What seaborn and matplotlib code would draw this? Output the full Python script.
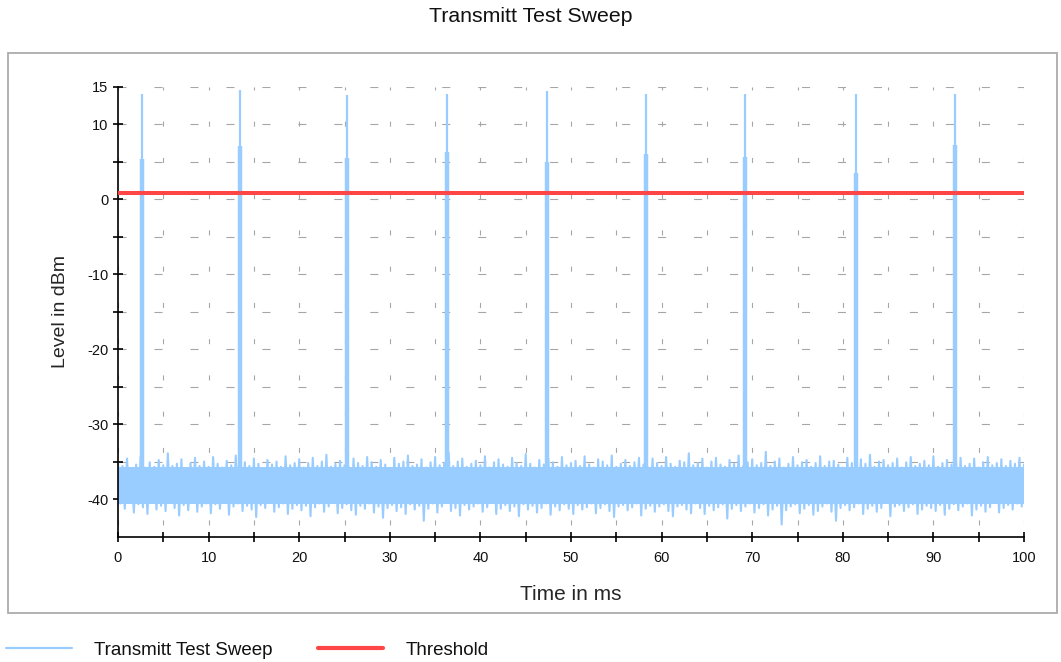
import numpy as np
import pandas as pd
import matplotlib
matplotlib.use("Agg")
import matplotlib.pyplot as plt
import seaborn as sns
from matplotlib.lines import Line2D
from matplotlib.patches import Rectangle

# ---------------- data ----------------
title = "Transmitt Test Sweep"
x_label = "Time in ms"
y_label = "Level in dBm"
series_names = ["Transmitt Test Sweep", "Threshold"]

# sweep sampled every 0.5 ms: upper / lower excursions of the noise floor (dBm)
noise_hi = [
    -35.2, -35.6, -34.6, -35.9, -35.4, -34.3, -35.8, -35.1, -35.7, -34.8, -35.5, -33.9, -35.6, -35.3, -34.7, -35.9, -35.2, -34.5, -35.6, -35.0,
    -35.7, -34.4, -35.3, -35.8, -34.9, -35.5, -34.2, -35.7, -35.1, -35.6, -34.6, -35.3, -35.9, -34.8, -35.4, -35.0, -35.7, -34.3, -35.5, -35.2,
    -34.7, -35.8, -35.2, -34.5, -35.6, -35.0, -34.1, -35.7, -35.3, -34.9, -35.5, -35.8, -34.6, -35.2, -35.6, -34.4, -35.1, -35.7, -34.8, -35.4,
    -35.9, -34.5, -35.3, -35.0, -34.2, -35.6, -35.4, -34.7, -35.8, -35.1, -34.4, -35.5, -35.2, -33.8, -35.6, -35.0, -34.6, -35.7, -35.3, -34.9,
    -35.5, -34.3, -35.8, -35.1, -34.7, -35.4, -35.7, -34.5, -35.2, -35.6, -34.0, -35.3, -35.8, -34.8, -35.4, -34.6, -35.1, -35.7, -34.4, -35.5,
    -35.2, -34.9, -35.6, -34.3, -35.4, -35.8, -34.7, -35.0, -35.5, -34.2, -35.7, -35.3, -34.8, -35.6, -35.1, -34.5, -35.4, -35.8, -34.6, -35.2,
    -35.6, -34.4, -35.3, -35.7, -34.9, -35.1, -33.9, -35.5, -35.2, -34.6, -35.8, -35.0, -34.5, -35.4, -35.7, -34.8, -35.3, -34.2, -35.6, -35.1,
    -34.7, -35.5, -35.2, -33.7, -35.6, -35.0, -34.6, -35.8, -35.3, -34.4, -35.5, -35.1, -34.8, -35.7, -35.2, -34.3, -35.6, -35.0, -34.9, -35.4,
    -35.8, -34.5, -35.2, -35.6, -34.7, -35.3, -34.1, -35.7, -35.0, -34.8, -35.5, -35.2, -34.6, -35.8, -35.1, -34.4, -35.6, -35.3, -34.9, -35.5,
    -34.3, -35.7, -35.2, -34.8, -35.4, -35.0, -34.5, -35.6, -35.3, -34.6, -35.8, -35.1, -34.4, -35.5, -35.2, -34.7, -35.6, -34.9, -35.3, -34.5,
    -35.4,
]
noise_lo = [
    -40.6, -41.3, -40.2, -41.8, -40.7, -41.1, -42.0, -40.5, -41.4, -40.9, -41.6, -40.3, -41.2, -42.2, -40.8, -41.5, -40.4, -41.7, -41.0, -40.6,
    -41.9, -40.7, -41.3, -40.5, -42.1, -41.0, -40.6, -41.6, -40.9, -41.4, -42.4, -40.8, -41.2, -40.5, -41.7, -41.1, -40.6, -42.0, -41.3, -40.8,
    -41.5, -40.9, -42.3, -41.1, -40.6, -41.7, -41.0, -40.4, -41.9, -41.2, -40.7, -41.5, -42.1, -40.9, -41.3, -40.6, -41.8, -41.0, -42.5, -41.2,
    -40.8, -41.6, -41.1, -42.0, -40.7, -41.4, -40.9, -42.9, -41.3, -40.6, -41.8, -41.0, -40.5, -41.6, -41.2, -42.2, -40.8, -41.4, -41.0, -40.6,
    -41.7, -41.1, -40.5, -42.0, -41.3, -40.8, -41.6, -41.0, -42.3, -40.7, -41.4, -40.9, -41.8, -41.2, -40.6, -42.1, -41.0, -41.5, -40.7, -41.3,
    -42.0, -40.8, -41.4, -41.1, -40.6, -41.9, -41.2, -40.7, -41.6, -42.4, -41.0, -40.8, -41.5, -41.1, -40.6, -42.2, -41.3, -40.9, -41.7, -41.0,
    -40.7, -41.6, -42.3, -41.0, -40.8, -41.4, -41.9, -40.6, -41.2, -42.0, -40.9, -41.5, -41.1, -40.7, -42.6, -41.3, -40.8, -41.6, -41.0, -40.6,
    -41.8, -41.2, -40.7, -42.2, -41.4, -40.9, -43.4, -41.5, -41.0, -40.7, -41.9, -41.3, -40.8, -42.1, -41.6, -41.0, -40.6, -41.7, -42.9, -41.2,
    -40.8, -41.5, -41.1, -40.6, -42.0, -41.3, -40.9, -41.7, -41.2, -40.5, -42.3, -41.0, -40.8, -41.6, -41.1, -40.7, -42.0, -41.4, -40.9, -41.2,
    -41.6, -40.8, -42.1, -41.3, -40.7, -41.5, -41.0, -40.6, -42.2, -41.4, -40.9, -41.7, -41.1, -40.5, -41.8, -41.2, -40.8, -41.4, -40.6, -41.0,
    -40.7,
]
noise_step_ms = 0.5
noise_core_top = -35.7
noise_core_bottom = -40.6

# transmit bursts
spike_times = [2.7, 13.5, 25.3, 36.3, 47.4, 58.3, 69.2, 81.5, 92.4]
spike_peaks = [14.0, 14.5, 13.9, 14.0, 14.4, 14.0, 14.0, 14.0, 14.0]
spike_shoulders = [5.4, 7.1, 5.5, 6.3, 5.0, 6.0, 5.6, 3.5, 7.2]

threshold_level = 0.8

x_major = [0, 10, 20, 30, 40, 50, 60, 70, 80, 90, 100]
x_minor = [5, 15, 25, 35, 45, 55, 65, 75, 85, 95]
y_major = [-40, -30, -20, -10, 0, 10, 15]
y_minor = [-35, -25, -15, -5, 5]
x_limits = (0, 100)
y_limits = (-45, 15)

sweep_color = "#99CCFF"
threshold_color = "#FF4646"

# ---------------- style ----------------
sns.set_theme(style="white")
plt.rcParams["font.family"] = ["Liberation Sans", "DejaVu Sans"]
plt.rcParams["lines.scale_dashes"] = False
plt.rcParams["text.color"] = "#111111"

fig = plt.figure(figsize=(10.61, 6.62), dpi=100)
fig.patch.set_facecolor("white")
ax = fig.add_axes([118 / 1061, 1 - 536.5 / 662, 906 / 1061, 449.8 / 662])
ax.set_facecolor("white")

# outer frame
fig.patches.append(Rectangle((8 / 1061, 1 - 613 / 662), 1049 / 1061, 560 / 662,
                             transform=fig.transFigure, fill=False,
                             edgecolor="#ababab", linewidth=1.3, zorder=0))

# ---------------- sweep trace ----------------
n = len(noise_hi)
t_grid = np.arange(n) * noise_step_ms
xs = np.empty(2 * n)
ys = np.empty(2 * n)
xs[0::2] = t_grid
xs[1::2] = t_grid + noise_step_ms / 2
ys[0::2] = noise_hi
ys[1::2] = noise_lo
trace = pd.DataFrame({"time": xs, "level": ys})

ax.fill_between(t_grid, noise_core_bottom, noise_core_top, color=sweep_color,
                linewidth=0, zorder=2)
sns.lineplot(data=trace, x="time", y="level", sort=False, estimator=None,
             color=sweep_color, linewidth=1.5, ax=ax, zorder=2)

# bursts
ax.vlines(spike_times, noise_core_top, spike_shoulders, color=sweep_color,
          linewidth=3.2, zorder=2)
ax.vlines(spike_times, noise_core_top, spike_peaks, color=sweep_color,
          linewidth=1.6, zorder=2)

# threshold
ax.axhline(threshold_level, color=threshold_color, linewidth=2.9, zorder=3)

# ---------------- axes ----------------
ax.set_xlim(*x_limits)
ax.set_ylim(*y_limits)
ax.set_xticks(x_major)
ax.set_xticks(x_minor, minor=True)
ax.set_yticks(y_major)
ax.set_yticks(y_minor, minor=True)
ax.set_xticklabels([str(v) for v in x_major])
ax.set_yticklabels([str(v) for v in y_major])

for s in ["top", "right"]:
    ax.spines[s].set_visible(False)
for s in ["left", "bottom"]:
    ax.spines[s].set_color("black")
    ax.spines[s].set_linewidth(1.2)

ax.tick_params(axis="both", which="both", direction="inout", length=7,
               width=1.2, color="black", labelsize=10.5, labelcolor="#111111")
ax.tick_params(axis="y", which="both", pad=3.5, left=True)
ax.tick_params(axis="x", which="both", pad=7, bottom=True)

ax.set_axisbelow(True)
ax.yaxis.grid(True, which="both", color="#a6a6a6", linewidth=0.8,
              linestyle=(0, (5.8, 20.1)))
ax.xaxis.grid(True, which="both", color="#a6a6a6", linewidth=0.8,
              linestyle=(17.4, (3.6, 22.5)))

ax.set_xlabel(x_label, fontsize=15)
ax.set_ylabel(y_label, fontsize=14)
ax.xaxis.set_label_coords(0.5, -0.13)
ax.xaxis.label.set_va("center")
ax.yaxis.set_label_coords(-0.064, 0.5)
ax.yaxis.label.set_va("center")

fig.text(0.5, 1 - 17 / 662, title, ha="center", va="center", fontsize=15.3)

# ---------------- legend ----------------
handles = [Line2D([], [], color=sweep_color, linewidth=1.6),
           Line2D([], [], color=threshold_color, linewidth=3.0)]
fig.legend(handles, series_names, loc="center left",
           bbox_to_anchor=(6 / 1061, 1 - 650 / 662), bbox_transform=fig.transFigure,
           ncol=2, frameon=False, borderpad=0, borderaxespad=0,
           fontsize=13.5, handlelength=3.5, handletextpad=1.2, columnspacing=2.4)

fig.savefig("out.png", dpi=100, facecolor="white")
